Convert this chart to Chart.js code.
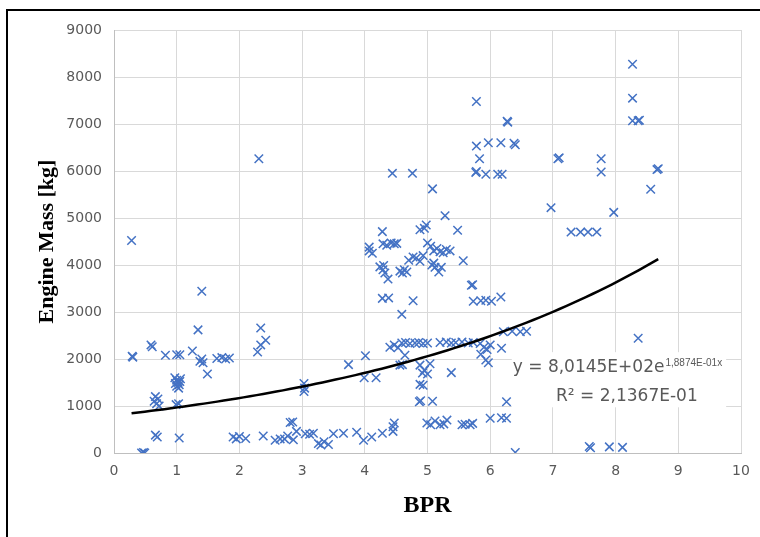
<!DOCTYPE html>
<html>
<head>
<meta charset="utf-8">
<title>Engine Mass vs BPR</title>
<script src="https://cdn.jsdelivr.net/npm/chart.js@4.4.0/dist/chart.umd.min.js"></script>
<style>
  html, body { margin: 0; padding: 0; background: #fff; }
  #wrap { position: relative; width: 760px; height: 537px; overflow: hidden; }
  #wrap canvas { position: absolute; left: 0; top: 0; }
  /* the cropped frame of the original screenshot */
  #frame {
    position: absolute; left: 6px; top: 9px; width: 800px; height: 600px;
    border-top: 2px solid #000; border-left: 2px solid #000; pointer-events: none;
  }
</style>
</head>
<body>
<div id="wrap">
  <canvas id="massChart" width="760" height="537"></canvas>
  <div id="frame"></div>
</div>
<script>
// bypass ratio of each engine
const bpr = [
  0.28, 0.29, 0.30, 0.44, 0.47, 0.49, 0.59, 0.61, 0.64, 0.66, 0.68, 0.70, 0.72, 0.66, 0.69,
  0.82, 1.00, 1.05, 0.97, 1.00, 1.02, 1.04, 1.00, 1.03, 1.06, 0.98, 1.05, 1.03, 0.99, 1.04,
  1.25, 1.34, 1.40, 1.37, 1.40, 1.42, 1.49, 1.64, 1.72, 1.78, 1.84, 1.90, 1.95, 2.00, 2.10,
  2.31, 2.34, 2.29, 2.34, 2.42, 2.38, 2.57, 2.65, 2.72, 2.77, 2.81, 2.85, 2.86, 2.91,
  3.03, 3.04, 3.03, 3.05, 3.12, 3.18, 3.26, 3.30, 3.35, 3.42, 3.50, 3.66, 3.74, 3.87, 3.98,
  3.99, 4.01, 4.11, 4.18, 4.28, 4.45, 4.47, 4.45,
  4.07, 4.07, 4.12, 4.28, 4.29, 4.35, 4.42, 4.47, 4.51, 4.24, 4.29, 4.32, 4.37, 4.30,
  4.28, 4.38, 4.44, 4.56, 4.60, 4.63, 4.67, 4.59, 4.76, 4.77, 4.77, 4.82, 4.88, 4.93, 4.70,
  4.88, 4.95, 4.98, 5.00, 5.05, 5.10, 5.15, 5.20, 5.25, 5.30, 5.36, 5.07, 5.12, 5.18, 5.22, 5.10,
  5.08, 5.28, 5.48, 5.57, 5.72, 5.70,
  4.40, 4.47, 4.53, 4.59, 4.65, 4.72, 4.80, 4.86, 4.93, 5.00,
  5.20, 5.30, 5.38, 5.45, 5.55, 5.65, 5.73,
  4.64, 4.56, 4.60, 4.88, 4.95, 5.00, 5.04, 4.92, 5.38, 4.88, 4.93, 4.87, 4.89, 5.08,
  4.99, 5.05, 5.12, 5.20, 5.26, 5.31, 5.55, 5.60, 5.68, 5.72,
  5.78, 5.78, 5.97, 6.17, 6.38, 6.40, 5.83, 5.77, 5.78, 5.93, 6.12, 6.19, 6.27, 6.28,
  5.73, 5.85, 5.93, 6.02, 6.17,
  5.84, 5.90, 5.95, 6.00, 5.85, 5.93, 5.97, 6.18,
  6.21, 6.35, 6.48, 6.58, 6.26, 6.00, 6.18, 6.26, 6.40,
  6.97, 7.08, 7.10, 7.29, 7.44, 7.56, 7.70, 7.77, 7.77, 7.97,
  7.58, 7.60, 7.90, 8.11,
  8.27, 8.27, 8.27, 8.36, 8.38, 8.36, 8.56, 8.66, 8.68
];

// engine mass in kg, same order as bpr
const engineMass = [
  4520, 2060, 2040, 0, 10, 0, 2300, 2260, 1100, 1200, 1050, 1150, 1000, 380, 340,
  2080, 2090, 2090, 1600, 1550, 1500, 1450, 1420, 1380, 1580, 1480, 1520, 1050, 1030, 320,
  2170, 2620, 3440, 1950, 2000, 1920, 1680, 2010, 2030, 2000, 2020, 340, 300, 350, 310,
  6260, 2660, 2150, 2300, 2400, 360, 270, 300, 300, 360, 650, 660, 280, 460,
  1480, 1380, 1310, 410, 400, 420, 200, 170, 240, 180, 410, 420, 1880, 440, 270,
  1600, 2070, 340, 1600, 420, 460, 640, 560,
  4300, 4380, 4250, 4710, 4450, 4420, 4470, 4450, 4460, 3960, 3900, 3830, 3700, 3990,
  3290, 3300, 5950, 3870, 3830, 3900, 3850, 2950, 5950, 3240, 4170, 4150, 4080, 4200, 4100,
  4750, 4780, 4850, 4470, 4400, 4300, 4350, 4280, 4260, 4330, 4300, 4000, 3950, 3850, 3950, 4040,
  5620, 5050, 4740, 4090, 3580, 3570,
  2250, 2300, 2240, 2340, 2350, 2330, 2340, 2350, 2330, 2340,
  2350, 2360, 2340, 2350, 2360, 2340, 2350,
  2080, 1870, 1880, 1870, 1760, 1680, 1900, 1700, 1710, 1460, 1440, 1090, 1110, 1100,
  640, 600, 680, 600, 620, 700, 600, 610, 600, 630,
  7480, 6530, 6600, 6600, 6590, 6560, 6260, 5970, 5990, 5930, 5930, 5930, 7060, 7040,
  3230, 3240, 3250, 3230, 3320,
  2330, 2250, 2200, 2300, 2100, 1980, 1920, 2230,
  2580, 2590, 2580, 2590, 1090, 740, 750, 740, 10,
  5220, 6260, 6280, 4700, 4700, 4700, 4700, 6260, 5980, 5120,
  140, 110, 130, 120,
  8270, 7550, 7070, 7070, 7080, 2440, 5610, 6030, 6050
];

// exponential trendline as printed on the chart: y = a * e^(b x)
const trendA = 801.45;
const trendB = 0.18874;
const equationMain = 'y = 8,0145E+02e';
const equationExp = '1,8874E-01x';
const rSquaredText = 'R\u00b2 = 2,1367E-01';

const xTickLabels = ['0', '1', '2', '3', '4', '5', '6', '7', '8', '9', '10'];
const yTickLabels = ['0', '1000', '2000', '3000', '4000', '5000', '6000', '7000', '8000', '9000'];

const points = bpr.map((v, i) => ({ x: v, y: engineMass[i] }));

const xMin = Math.min(...bpr), xMax = Math.max(...bpr);
const trendPoints = [];
for (let i = 0; i <= 80; i++) {
  const xv = xMin + (xMax - xMin) * i / 80;
  trendPoints.push({ x: xv, y: trendA * Math.exp(trendB * xv) });
}

// where the trendline label sits, in data units
function labelPos(chart) {
  const { x, y } = chart.scales;
  return {
    px: x.getPixelForValue(6.36), py: y.getPixelForValue(1720),
    px2: x.getPixelForValue(7.05), py2: y.getPixelForValue(1100)
  };
}

// trendline label: white box under the marks, text on top
const equationLabel = {
  id: 'equationLabel',
  beforeDatasetsDraw(chart) {
    const { ctx } = chart;
    const { px, py, py2 } = labelPos(chart);
    ctx.save();
    ctx.font = '17px "DejaVu Sans"';
    const w1 = ctx.measureText(equationMain).width;
    ctx.font = '10px "Liberation Sans"';
    const w2 = ctx.measureText(equationExp).width;
    ctx.fillStyle = '#fff';
    ctx.fillRect(px - 1, py - 20, w1 + w2 + 6, py2 - py + 26);
    ctx.restore();
  },
  afterDatasetsDraw(chart) {
    const { ctx } = chart;
    const { px, py, px2, py2 } = labelPos(chart);
    ctx.save();
    ctx.fillStyle = '#595959';
    ctx.textBaseline = 'alphabetic';
    ctx.font = '17px "DejaVu Sans"';
    const w1 = ctx.measureText(equationMain).width;
    ctx.fillText(equationMain, px, py);
    ctx.fillText(rSquaredText, px2, py2);
    ctx.font = '10px "Liberation Sans"';
    ctx.fillText(equationExp, px + w1 + 1, py - 6);
    ctx.restore();
  }
};

const ctx = document.getElementById('massChart').getContext('2d');
new Chart(ctx, {
  type: 'scatter',
  data: {
    datasets: [
      {
        label: 'Expon. trend',
        data: trendPoints,
        showLine: true,
        borderColor: '#000',
        borderWidth: 2.5,
        pointRadius: 0,
        fill: false,
        tension: 0
      },
      {
        label: 'Engine Mass',
        data: points,
        pointStyle: 'crossRot',
        pointRadius: 6,
        borderColor: '#4472C4',
        backgroundColor: '#4472C4',
        pointBorderWidth: 1.5
      }
    ]
  },
  options: {
    responsive: false,
    animation: false,
    layout: { padding: { left: 34, top: 30, right: 19, bottom: 17 } },
    plugins: {
      legend: { display: false },
      tooltip: { enabled: false }
    },
    scales: {
      x: {
        type: 'linear',
        min: 0,
        max: 10,
        ticks: {
          stepSize: 1,
          padding: 10,
          color: '#595959',
          font: { family: 'DejaVu Sans', size: 14 },
          callback: (v) => xTickLabels[Math.round(v)]
        },
        grid: { color: '#d9d9d9', drawTicks: false },
        border: { color: '#bfbfbf' },
        title: {
          display: true,
          text: 'BPR',
          color: '#000',
          padding: 0,
          font: { family: 'Liberation Serif', size: 24, weight: 'bold' }
        },
        afterFit: (s) => { s.height = 67; }
      },
      y: {
        min: 0,
        max: 9000,
        ticks: {
          stepSize: 1000,
          padding: 12,
          color: '#595959',
          font: { family: 'DejaVu Sans', size: 14 },
          callback: (v) => yTickLabels[Math.round(v / 1000)]
        },
        grid: { color: '#d9d9d9', drawTicks: false },
        border: { color: '#bfbfbf' },
        title: {
          display: true,
          text: 'Engine Mass [kg]',
          color: '#000',
          padding: 0,
          font: { family: 'Liberation Serif', size: 22, weight: 'bold' }
        },
        afterFit: (s) => { s.width = 80; }
      }
    }
  },
  plugins: [equationLabel]
});
</script>
</body>
</html>
